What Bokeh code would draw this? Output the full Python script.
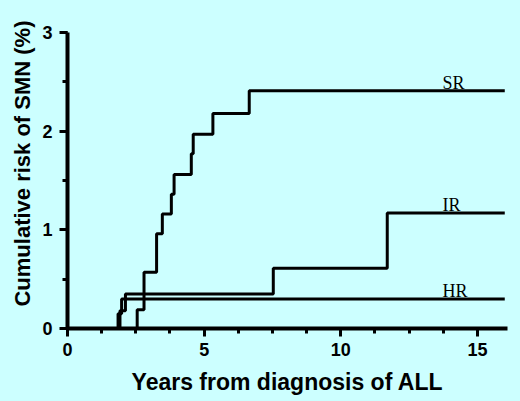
import numpy as np
from bokeh.plotting import figure
from bokeh.models import Range1d, SingleIntervalTicker, Title, GlobalInlineStyleSheet
from bokeh.core.properties import value
from bokeh.embed import file_html
from bokeh.resources import INLINE

# cumulative risk of SMN (%) by risk group
sr_years = [0, 2.55, 2.8, 3.26, 3.47, 3.8, 3.9, 4.53, 4.6, 5.32, 6.65, 16.0]
sr_risk = [0, 0.19, 0.57, 0.96, 1.16, 1.36, 1.56, 1.77, 1.97, 2.18, 2.41, 2.41]

ir_years = [0, 1.92, 2.12, 7.53, 11.7, 16.0]
ir_risk = [0, 0.18, 0.35, 0.61, 1.17, 1.17]

hr_years = [0, 1.85, 1.98, 16.0]
hr_risk = [0, 0.15, 0.30, 0.30]

groups = ['SR', 'IR', 'HR']
label_year = 13.72

bg = '#ccffff'
sans = 'Liberation Sans'

page_css = GlobalInlineStyleSheet(css="html, body { margin: 0; padding: 0; background: %s; }" % bg)

p = figure(width=520, height=401, output_backend="svg", toolbar_location=None,
           x_range=Range1d(0, 16.1), y_range=Range1d(0, 3),
           min_border_left=67, min_border_right=13, min_border_top=32, min_border_bottom=73,
           stylesheets=[page_css])
p.background_fill_color = bg
p.border_fill_color = bg
p.outline_line_color = None
p.grid.visible = False

for yrs, risk in [(sr_years, sr_risk), (ir_years, ir_risk), (hr_years, hr_risk)]:
    p.step(yrs, risk, mode="after", line_width=3, color='black')

ends = [sr_risk[-1], ir_risk[-1], hr_risk[-1]]
p.text([label_year] * 3, ends, text=groups, text_font=value("Liberation Serif"),
       text_font_size='18px', text_baseline='bottom', text_align='left',
       y_offset=2, color='black')

p.xaxis.ticker = SingleIntervalTicker(interval=5, num_minor_ticks=4)
p.yaxis.ticker = SingleIntervalTicker(interval=1, num_minor_ticks=2)

for ax in [p.xaxis[0], p.yaxis[0]]:
    ax.axis_line_width = 4
    ax.major_tick_line_width = 3
    ax.minor_tick_line_width = 3
    ax.major_tick_in = 0
    ax.minor_tick_in = 0
    ax.major_tick_out = 8
    ax.minor_tick_out = 5
    ax.major_label_text_font = sans
    ax.major_label_text_font_style = 'bold'
    ax.major_label_text_font_size = '18px'
    ax.major_label_text_color = 'black'
    ax.axis_label_text_font = sans
    ax.axis_label_text_font_style = 'bold'
    ax.axis_label_text_font_size = '23px'
    ax.axis_label_text_color = 'black'

p.xaxis.major_label_standoff = 6
p.xaxis.axis_label = 'Years from diagnosis of ALL'
p.xaxis.axis_label_standoff = 10
p.yaxis.major_label_standoff = 7

ylab = Title(text='Cumulative risk of SMN (%)', align='right', offset=-12, standoff=10,
             text_font=sans, text_font_style='bold', text_font_size='22px',
             text_color='black')
p.add_layout(ylab, 'left')

open("out.html", "w").write(file_html(p, INLINE))
